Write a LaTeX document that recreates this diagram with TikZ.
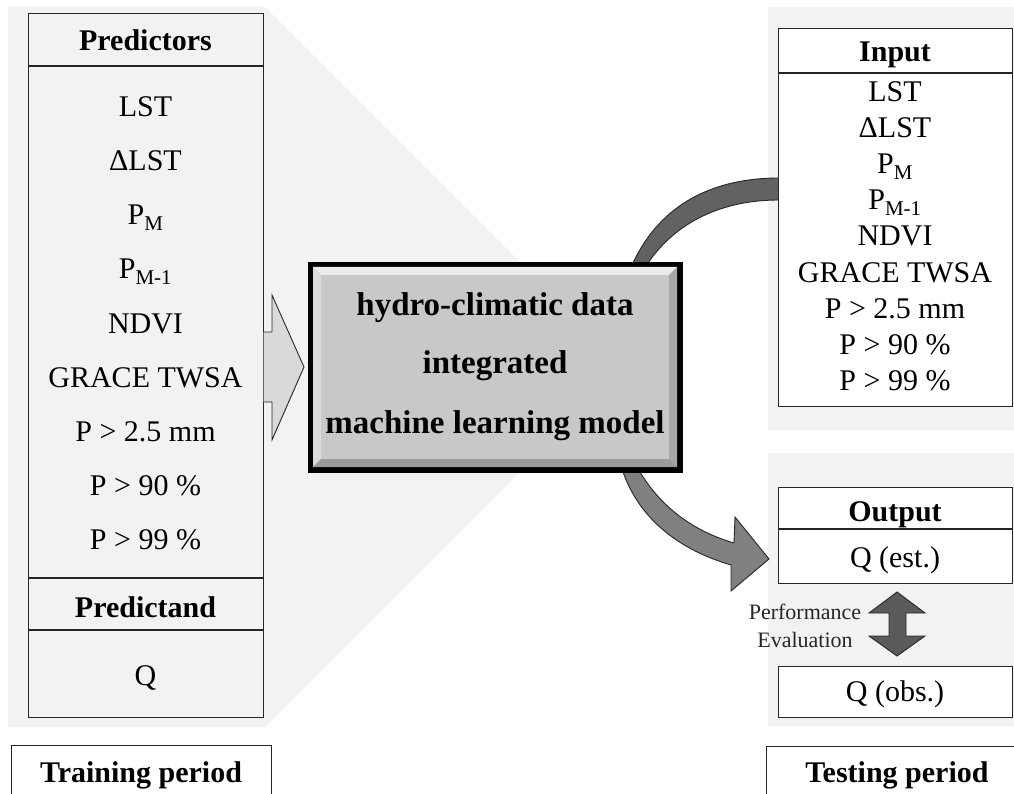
\documentclass[tikz,border=0pt]{standalone}
\usepackage{fontspec}
\setmainfont{Liberation Serif}
\definecolor{bgpanel}{HTML}{F2F2F2}
\definecolor{arcgray}{HTML}{626262}
\definecolor{arrowgray}{HTML}{808080}
\definecolor{dblgray}{HTML}{5A5A5A}
\definecolor{blockfill}{HTML}{D9D9D9}
\definecolor{modelfill}{HTML}{C8C8C8}
\begin{document}
\begin{tikzpicture}[x=1pt,y=-1pt,
  tb/.style={draw=black!85, line width=1.3pt},
  lbl/.style={anchor=base, inner sep=0pt, font=\fontsize{30}{36}\selectfont},
  hd/.style={anchor=base, inner sep=0pt, font=\fontsize{30}{36}\selectfont\bfseries},
  ml/.style={anchor=base, inner sep=0pt, font=\fontsize{33}{39}\selectfont\bfseries},
  pe/.style={anchor=base, inner sep=0pt, font=\fontsize{22}{26}\selectfont, text=black!85},
  shapeline/.style={draw=black!85, line width=0.9pt}]
\clip (0,0) rectangle (1014,794);
\fill[white] (0,0) rectangle (1014,794);
% background panels
\fill[bgpanel] (8,7) -- (265,7) -- (540,282) -- (540,452) -- (265,727) -- (8,727) -- cycle;
\fill[bgpanel] (768,7) rectangle (1014,430);
\fill[bgpanel] (768,453) rectangle (1014,726);
% curved band to input
\filldraw[fill=arcgray, shapeline] (633,263) .. controls (660,205) and (712,178) .. (779,178) -- (779,200) .. controls (722,200) and (676,222) .. (648,263) -- cycle;
% curved arrow to output
\filldraw[fill=arrowgray, shapeline] (623,472) .. controls (640,520) and (680,550) .. (731,565) -- (731,591) -- (769,559) -- (735,517) -- (734,543) .. controls (690,530) and (660,505) .. (640,472) -- cycle;
% left table
\node[tb, fill=bgpanel, minimum width=235, minimum height=704, anchor=north west, inner sep=0] (ltab) at (28,13) {};
\draw[tb] (28,66) -- (263,66);
\draw[tb] (28,578) -- (263,578);
\draw[tb] (28,630) -- (263,630);
\node[hd] (predictors) at (145.5,51) {Predictors};
\node[lbl] (l1) at (145.5,117) {LST};
\node[lbl] (l2) at (145.5,171) {ΔLST};
\node[lbl] (l3) at (145.5,225) {P\textsubscript{M}};
\node[lbl] (l4) at (145.5,279) {P\textsubscript{M-1}};
\node[lbl] (l5) at (145.5,333) {NDVI};
\node[lbl] (l6) at (145.5,387) {GRACE TWSA};
\node[lbl] (l7) at (145.5,441) {P > 2.5 mm};
\node[lbl] (l8) at (145.5,495) {P > 90 \%};
\node[lbl] (l9) at (145.5,549) {P > 99 \%};
\node[hd] (predictand) at (145.5,617) {Predictand};
\node[lbl] (q) at (145.5,685) {Q};
% block arrow into model
\filldraw[fill=blockfill, shapeline] (263.6,332) -- (272,332) -- (272,295) -- (304,367) -- (272,440) -- (272,402) -- (263.6,402);
% model box
\node[fill=black, minimum width=375, minimum height=211, inner sep=0, anchor=north west] (model) at (308,262) {};
\fill[modelfill] (313,267) rectangle (677,467);
\fill[white!92!black] (313,267) -- (677,267) -- (669,275) -- (321,275) -- cycle;
\fill[white!86!black] (313,267) -- (321,275) -- (321,459) -- (313,467) -- cycle;
\fill[white!66!black] (677,267) -- (677,467) -- (669,459) -- (669,275) -- cycle;
\fill[white!60!black] (313,467) -- (677,467) -- (669,459) -- (321,459) -- cycle;
\node[ml] (m1) at (495,315) {hydro-climatic data};
\node[ml] (m2) at (495,373) {integrated};
\node[ml] (m3) at (495,433) {machine learning model};
% input table
\node[tb, fill=white, minimum width=234, minimum height=378, anchor=north west, inner sep=0] (itab) at (778,28) {};
\draw[tb] (778,73) -- (1012,73);
\node[hd] (input) at (895,62) {Input};
\node[lbl] (i1) at (895,102) {LST};
\node[lbl] (i2) at (895,138) {ΔLST};
\node[lbl] (i3) at (895,174) {P\textsubscript{M}};
\node[lbl] (i4) at (895,210) {P\textsubscript{M-1}};
\node[lbl] (i5) at (895,246) {NDVI};
\node[lbl] (i6) at (895,282) {GRACE TWSA};
\node[lbl] (i7) at (895,318) {P > 2.5 mm};
\node[lbl] (i8) at (895,354) {P > 90 \%};
\node[lbl] (i9) at (895,390) {P > 99 \%};
% output table
\node[tb, fill=white, minimum width=234, minimum height=96, anchor=north west, inner sep=0] (otab) at (778,487) {};
\draw[tb] (778,529) -- (1012,529);
\node[hd] (output) at (895,521) {Output};
\node[lbl] (qest) at (895,567) {Q (est.)};
\node[tb, fill=white, minimum width=234, minimum height=51, anchor=north west, inner sep=0] (obox) at (778,666) {};
\node[lbl] (qobs) at (895,701) {Q (obs.)};
% performance evaluation
\filldraw[fill=dblgray, shapeline] (897,592) -- (925,613) -- (906,613) -- (906,636) -- (925,636) -- (897,656) -- (869,636) -- (889,636) -- (889,613) -- (869,613) -- cycle;
\node[pe] (perf) at (805,619) {Performance};
\node[pe] (eval) at (805,647) {Evaluation};
% period labels
\node[tb, fill=white, minimum width=260, minimum height=60, anchor=north west, inner sep=0] (train) at (11,745) {};
\node[hd] (trainl) at (141,782) {Training period};
\node[tb, fill=white, minimum width=260, minimum height=60, anchor=north west, inner sep=0] (test) at (766,746) {};
\node[hd] (testl) at (897,782) {Testing period};
\end{tikzpicture}
\end{document}
